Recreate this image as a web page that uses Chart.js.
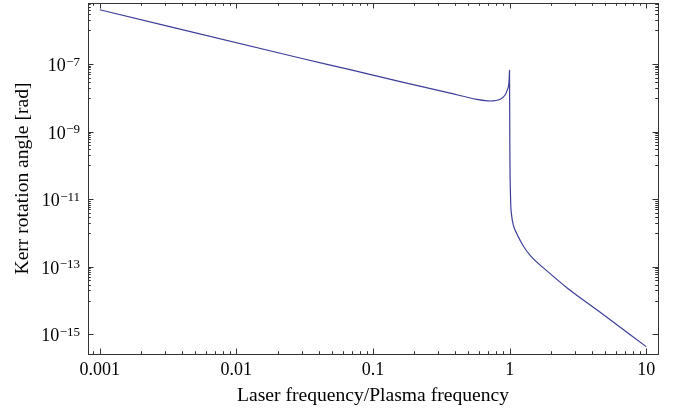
<!DOCTYPE html>
<html>
<head>
<meta charset="utf-8">
<script src="https://cdn.jsdelivr.net/npm/chart.js@4.4.1/dist/chart.umd.min.js"></script>
<style>
  html, body { margin: 0; padding: 0; background: #fff; }
  #box { width: 686px; height: 416px; }
</style>
</head>
<body>
<div id="box"><canvas id="grafico"></canvas></div>
<script>
// valores (frequência do laser / frequência de plasma)
const frequencyRatio = [0.001, 0.0292, 0.0679, 0.158, 0.367, 0.575, 0.719, 0.851, 0.927, 0.962,
  0.985, 0.9915, 0.998, 1.004, 1.017, 1.034, 1.066, 1.129, 1.194, 1.262, 1.413, 1.98, 2.624, 4.6, 10];
// ângulo de rotação de Kerr [rad]
const kerrAngle = [4.07e-6, 1.52e-7, 6.87e-8, 3.05e-8, 1.38e-8, 9.1e-9, 8.1e-9, 9.1e-9, 1.22e-8, 1.73e-8,
  2.43e-8, 3.4e-8, 6.5e-8, 2.85e-10, 9.3e-12, 3.4e-12, 1.70e-12, 9.53e-13, 6.07e-13, 4.06e-13,
  2.19e-13, 6.28e-14, 2.41e-14, 4.53e-15, 4.35e-16];

// marcas dos eixos
const xTicks = [0.001, 0.01, 0.1, 1, 10];
const xTickLabels = ['0.001', '0.01', '0.1', '1', '10'];
const yExponents = [-15, -13, -11, -9, -7, -5];

const xMin = Math.pow(10, -3.086), xMax = Math.pow(10, 1.086);
const yMin = Math.pow(10, -15.58), yMax = Math.pow(10, -5.19);

const fonte = '"Liberation Serif", "DejaVu Serif", serif';

// desenha moldura, marcas para dentro, rótulos do eixo y e títulos
const moldura = {
  id: 'moldura',
  afterDraw(chart) {
    const c = chart.ctx;
    const a = chart.chartArea;
    const xs = chart.scales.x, ys = chart.scales.y;
    c.save();
    c.strokeStyle = '#333';
    c.lineWidth = 1;
    c.strokeRect(a.left + 0.5, a.top + 0.5, a.right - a.left, a.bottom - a.top);

    const inX = v => v >= xMin && v <= xMax;
    const inY = v => v >= yMin && v <= yMax;
    c.beginPath();
    // eixo x: principais e secundárias, em baixo e em cima
    for (let k = -4; k <= 1; k++) {
      for (let m = 1; m <= 9; m++) {
        const v = m * Math.pow(10, k);
        if (!inX(v)) continue;
        const len = m === 1 ? 5.5 : 2.8;
        const px = Math.round(xs.getPixelForValue(v)) + 0.5;
        c.moveTo(px, a.bottom); c.lineTo(px, a.bottom - len);
        c.moveTo(px, a.top); c.lineTo(px, a.top + len);
      }
    }
    // eixo y: principais nos expoentes ímpares, secundárias na década abaixo
    yExponents.forEach(k => {
      const major = Math.pow(10, k);
      if (inY(major)) {
        const py = Math.round(ys.getPixelForValue(major)) + 0.5;
        c.moveTo(a.left, py); c.lineTo(a.left + 5.5, py);
        c.moveTo(a.right, py); c.lineTo(a.right - 5.5, py);
      }
      if (k <= -15) return;
      for (let m = 1; m <= 9; m++) {
        const v = m * Math.pow(10, k - 1);
        if (!inY(v)) continue;
        const py = Math.round(ys.getPixelForValue(v)) + 0.5;
        c.moveTo(a.left, py); c.lineTo(a.left + 2.8, py);
        c.moveTo(a.right, py); c.lineTo(a.right - 2.8, py);
      }
    });
    c.stroke();

    // rótulos 10^k
    c.fillStyle = '#000';
    c.textBaseline = 'alphabetic';
    c.textAlign = 'right';
    yExponents.forEach(k => {
      const v = Math.pow(10, k);
      if (!inY(v)) return;
      const py = ys.getPixelForValue(v);
      const exp = '\u2212' + Math.abs(k);
      const right = a.left - 8;
      c.font = '13px ' + fonte;
      const w = c.measureText(exp).width;
      c.fillText(exp, right, py + 1.5);
      c.font = '18px ' + fonte;
      c.fillText('10', right - w - 0.5, py + 7);
    });

    // títulos dos eixos
    c.font = '19.6px ' + fonte;
    c.textAlign = 'center';
    c.textBaseline = 'middle';
    c.fillText('Laser frequency/Plasma frequency', (a.left + a.right) / 2, 396);
    c.translate(23, (a.top + a.bottom) / 2);
    c.rotate(-Math.PI / 2);
    c.fillText('Kerr rotation angle [rad]', 0, 0);
    c.restore();
  }
};

const ctx = document.getElementById('grafico').getContext('2d');
const meuGrafico = new Chart(ctx, {
  type: 'line',
  data: {
    datasets: [{
      data: frequencyRatio.map((x, i) => ({ x: x, y: kerrAngle[i] })),
      borderColor: '#3d3d9b',
      borderWidth: 1.2,
      pointRadius: 0,
      cubicInterpolationMode: 'monotone',
      fill: false
    }]
  },
  options: {
    responsive: true,
    maintainAspectRatio: false,
    animation: false,
    layout: { padding: { top: 3, right: 28, left: 0, bottom: 0 } },
    plugins: { legend: { display: false }, tooltip: { enabled: false } },
    scales: {
      x: {
        type: 'logarithmic',
        min: xMin,
        max: xMax,
        grid: { display: false, drawTicks: false },
        border: { display: false },
        afterBuildTicks: s => { s.ticks = xTicks.map(v => ({ value: v })); },
        afterFit: s => { s.height = 62; },
        ticks: {
          autoSkip: false,
          maxRotation: 0,
          padding: 5,
          color: '#000',
          font: { family: fonte, size: 18 },
          callback: (v) => {
            const i = xTicks.findIndex(t => Math.abs(t - v) / t < 1e-6);
            return i >= 0 ? xTickLabels[i] : '';
          }
        }
      },
      y: {
        type: 'logarithmic',
        min: yMin,
        max: yMax,
        grid: { display: false, drawTicks: false },
        border: { display: false },
        ticks: { display: false },
        afterFit: s => { s.width = 88; }
      }
    }
  },
  plugins: [moldura]
});
</script>
</body>
</html>
